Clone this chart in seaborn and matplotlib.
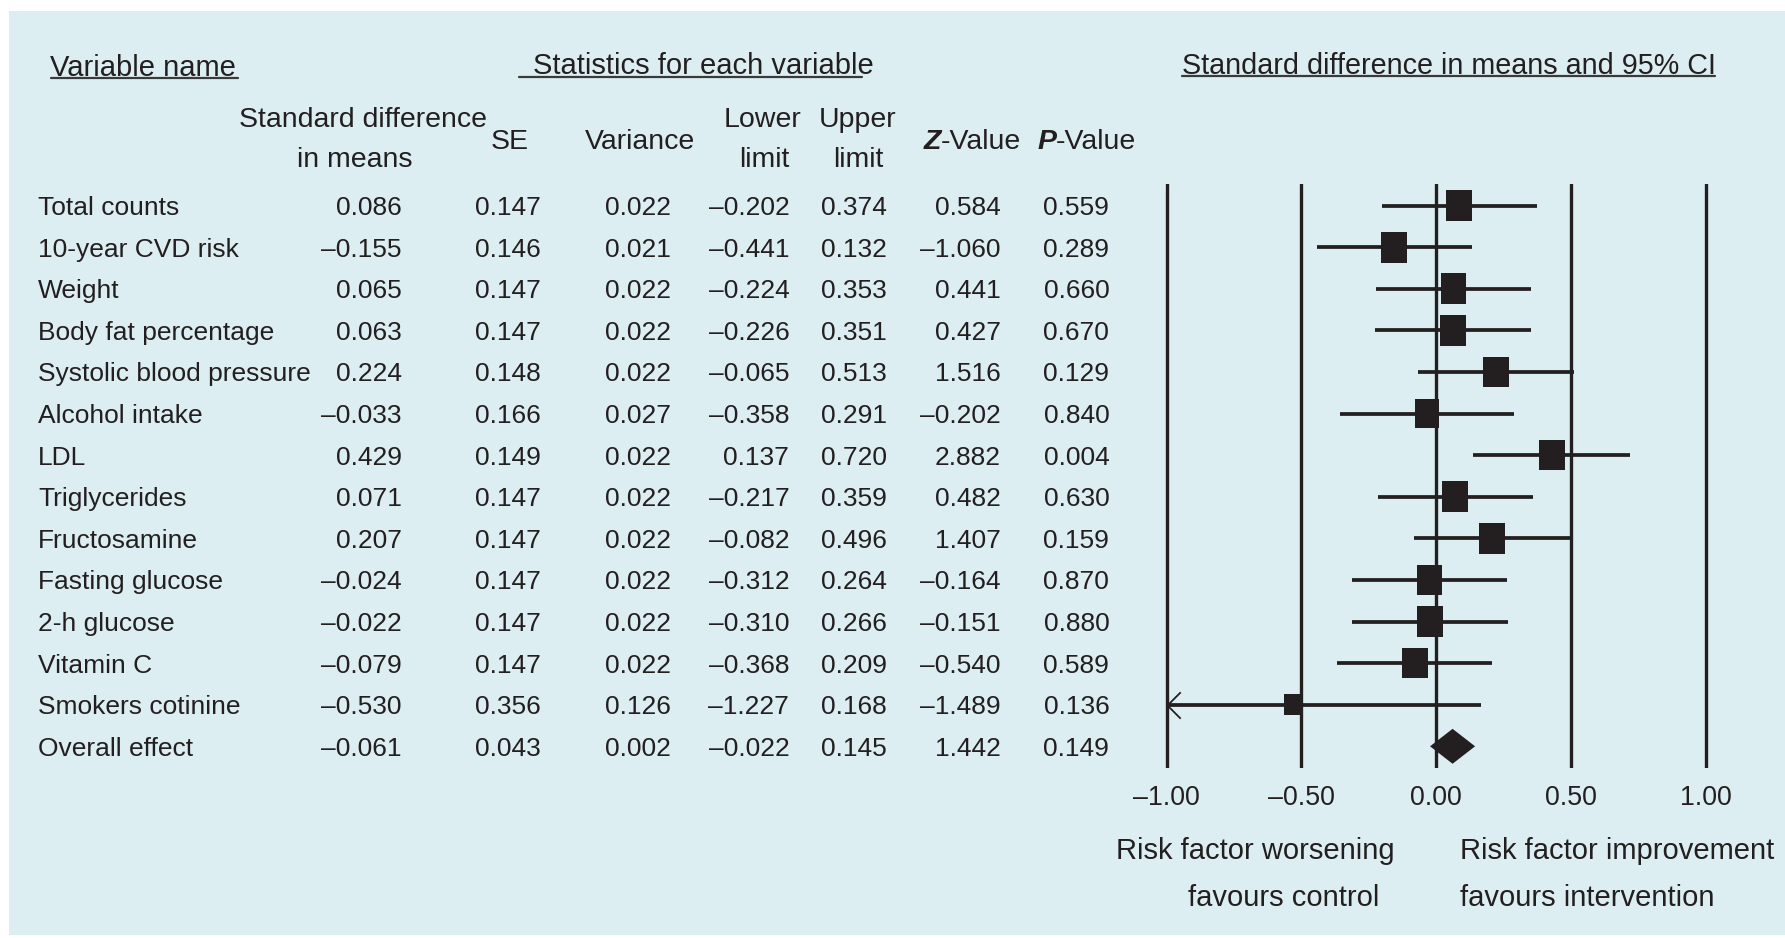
import numpy as np
import pandas as pd
import matplotlib
matplotlib.use("Agg")
import matplotlib.pyplot as plt
import seaborn as sns
from matplotlib import font_manager as fm
from matplotlib.path import Path
from matplotlib.markers import MarkerStyle
from matplotlib.patches import Rectangle
from matplotlib.transforms import blended_transform_factory

# ---------------- data ----------------
names = ["Total counts", "10-year CVD risk", "Weight", "Body fat percentage",
         "Systolic blood pressure", "Alcohol intake", "LDL", "Triglycerides",
         "Fructosamine", "Fasting glucose", "2-h glucose", "Vitamin C",
         "Smokers cotinine", "Overall effect"]
smd = [0.086, -0.155, 0.065, 0.063, 0.224, -0.033, 0.429, 0.071, 0.207,
       -0.024, -0.022, -0.079, -0.530, -0.061]
se = [0.147, 0.146, 0.147, 0.147, 0.148, 0.166, 0.149, 0.147, 0.147,
      0.147, 0.147, 0.147, 0.356, 0.043]
variance = [0.022, 0.021, 0.022, 0.022, 0.022, 0.027, 0.022, 0.022, 0.022,
            0.022, 0.022, 0.022, 0.126, 0.002]
lower = [-0.202, -0.441, -0.224, -0.226, -0.065, -0.358, 0.137, -0.217, -0.082,
         -0.312, -0.310, -0.368, -1.227, -0.022]
upper = [0.374, 0.132, 0.353, 0.351, 0.513, 0.291, 0.720, 0.359, 0.496,
         0.264, 0.266, 0.209, 0.168, 0.145]
zval = [0.584, -1.060, 0.441, 0.427, 1.516, -0.202, 2.882, 0.482, 1.407,
        -0.164, -0.151, -0.540, -1.489, 1.442]
pval = [0.559, 0.289, 0.660, 0.670, 0.129, 0.840, 0.004, 0.630, 0.159,
        0.870, 0.880, 0.589, 0.136, 0.149]
tick_vals = [-1.0, -0.5, 0.0, 0.5, 1.0]

# ---------------- style ----------------
sns.set_style("white")
plt.rcParams["font.family"] = ["Liberation Sans", "DejaVu Sans"]
INK = "#231f20"
PANEL = "#ddeef3"
HEAD = 20.5
TITLE = 21
LAB = 21

installed = {f.name for f in fm.fontManager.ttflist}
narrow = next((f for f in ["Liberation Sans Narrow", "Arial Narrow"] if f in installed), None)
if narrow:
    BODY_FAM = [narrow, "Liberation Sans", "DejaVu Sans"]
    BODY, TICK = 23, 23.5
else:
    BODY_FAM = ["Liberation Sans", "DejaVu Sans"]
    BODY, TICK = 19, 19.3

W, H = 1785, 938
fig = plt.figure(figsize=(W / 100, H / 100), dpi=100)
fig.patch.set_facecolor("white")

# pixel-coordinate background axes
bg = fig.add_axes([0, 0, 1, 1], zorder=0)
bg.set_xlim(0, W)
bg.set_ylim(H, 0)
bg.axis("off")
bg.add_patch(Rectangle((9, 11), W - 9, 924, color=PANEL, lw=0))

# forest axes placement
row_top, row_step = 205.5, 41.6
n = len(names)
y_lo, y_hi = -0.52, n - 1 + 0.52
px_top = row_top + y_lo * row_step
px_bot = row_top + y_hi * row_step
unit = 269.5
x0px = 1436.0
xmin, xmax = -1.1, 1.1
left_px = x0px + xmin * unit
right_px = x0px + xmax * unit
ax = fig.add_axes([left_px / W, 1 - px_bot / H, (right_px - left_px) / W,
                   (px_bot - px_top) / H], zorder=1)
ax.set_facecolor("none")

rows = np.arange(n)
study = rows[:-1]
lo = np.array(lower)
hi = np.array(upper)
weights = 1.0 / np.array(variance[:-1])
h_px = 31.0 * (weights / weights.max()) ** 0.22
area = (h_px * 72 / 100) ** 2

# reference lines
for v in tick_vals:
    ax.axvline(v, color=INK, lw=2.4, zorder=1)

# confidence intervals (clipped at axis end)
lo_clip = np.clip(lo[:-1], tick_vals[0], None)
ax.hlines(study, lo_clip, hi[:-1], color=INK, lw=2.7, zorder=2)

# squares
rect = Path([(-0.42, -0.5), (0.42, -0.5), (0.42, 0.5), (-0.42, 0.5), (-0.42, -0.5)],
            [Path.MOVETO, Path.LINETO, Path.LINETO, Path.LINETO, Path.CLOSEPOLY])
df = pd.DataFrame({"smd": smd[:-1], "row": study})
sns.scatterplot(data=df, x="smd", y="row", ax=ax, marker=MarkerStyle(rect),
                s=area, color=INK, edgecolor=INK, linewidth=0, legend=False, zorder=3)

# arrow for truncated interval
chev = Path([(1, 1), (0, 0), (1, -1)], [Path.MOVETO, Path.LINETO, Path.LINETO])
for i in study:
    if lo[i] < tick_vals[0]:
        ax.plot([tick_vals[0]], [i], marker=MarkerStyle(chev, fillstyle="none"),
                ms=19, mec=INK, mew=1.3, ls="none", zorder=3)

# overall diamond
r = rows[-1]
c = (lo[-1] + hi[-1]) / 2
dh = 0.42
ax.fill([lo[-1], c, hi[-1], c], [r, r - dh, r, r + dh], color=INK, lw=0, zorder=3)

ax.set_xlim(xmin, xmax)
ax.set_ylim(y_hi, y_lo)
ax.set_xticks(tick_vals)
ax.set_xticklabels([f"{v:.2f}".replace("-", "\u2013") for v in tick_vals],
                   family=BODY_FAM)
ax.set_yticks([])
ax.set_xlabel("")
ax.set_ylabel("")
ax.tick_params(axis="x", length=0, pad=12, labelsize=TICK, labelcolor=INK)
for s in ax.spines.values():
    s.set_visible(False)

# ---------------- table ----------------
tr = blended_transform_factory(bg.transData, ax.transData)


def f3(v):
    return f"{v:.3f}".replace("-", "\u2013")


cols = [(smd, 401.7), (se, 540.7), (variance, 670.7), (lower, 789.3),
        (upper, 887.0), (zval, 1001.0), (pval, 1109.3)]
for i, nm in enumerate(names):
    bg.text(38.3, i, nm, transform=tr, ha="left", va="center_baseline",
            fontsize=BODY, color=INK, family=BODY_FAM)
    for vals, xr in cols:
        bg.text(xr, i, f3(vals[i]), transform=tr, ha="right",
                va="center_baseline", fontsize=BODY, color=INK, family=BODY_FAM)

# titles with underline
titles = [("Variable name", 50.5, 64.5, (50.5, 238), 78.5, TITLE),
          ("Statistics for each variable", 533, 63, (519, 862), 76.7, TITLE),
          ("Standard difference in means and 95% CI", 1182, 62.5, (1182, 1715), 76.5, 20.7)]
for txt, x, y, (ux0, ux1), uy, fs in titles:
    bg.text(x, y, txt, ha="left", va="center_baseline", fontsize=fs, color=INK)
    bg.plot([ux0, ux1], [uy, uy], color="#3a3a3a", lw=1.6)

# column headers
heads = [("Standard difference", 363, 117), ("in means", 355, 157),
         ("SE", 510, 139), ("Variance", 640, 139),
         ("Lower", 762, 117), ("limit", 764, 157),
         ("Upper", 858, 117), ("limit", 858, 157)]
for txt, x, y in heads:
    bg.text(x, y, txt, ha="center", va="center_baseline", fontsize=HEAD, color=INK)

for letter, x in [("Z", 923.7), ("P", 1037.0)]:
    t = bg.text(x, 139, letter, ha="left", va="center_baseline", fontsize=HEAD,
                color=INK, fontstyle="italic", fontweight="bold")
    bg.annotate("-Value", xy=(1, 0), xycoords=t, ha="left", va="bottom",
                fontsize=HEAD, color=INK)

# bottom labels
bg.text(1255, 848, "Risk factor worsening", ha="center", va="center_baseline",
        fontsize=LAB, color=INK)
bg.text(1283.5, 895, "favours control", ha="center", va="center_baseline",
        fontsize=LAB, color=INK)
bg.text(1460, 848, "Risk factor improvement", ha="left", va="center_baseline",
        fontsize=LAB, color=INK)
bg.text(1460, 895, "favours intervention", ha="left", va="center_baseline",
        fontsize=LAB, color=INK)

fig.savefig("out.png", dpi=100, facecolor="white")
